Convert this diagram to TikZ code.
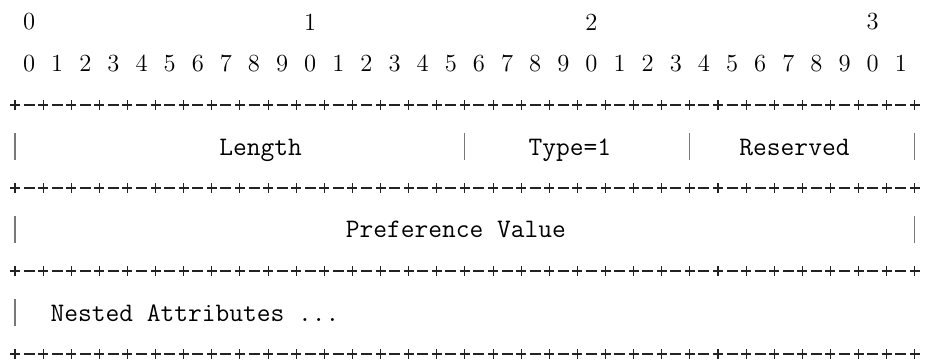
\documentclass[tikz,border=0pt]{standalone}
\usepackage{fontspec}
\usepackage{tikz}
\definecolor{grisBarre}{RGB}{120,120,120}
\definecolor{noirTrait}{RGB}{35,35,35}

\begin{document}
\begin{tikzpicture}[x=0.02cm, y=-0.02cm,
			digit/.style={inner sep=0pt, text=black, font=\fontsize{14}{16}\selectfont},
			field/.style={anchor=base west, inner sep=0pt, text=black, font=\ttfamily\fontsize{15.2}{18}\selectfont},
			bar/.style={draw=grisBarre, line width=0.6pt},
			rule/.style={draw=noirTrait, line width=0.6pt}
			]
			\useasboundingbox (0,0) rectangle (925,360);
			
			\foreach \d [count=\k from 0] in {0,1,2,3}
				\node[digit] (dec\k) at ({15+14.06*(1+20*\k)}, 22) {\d};
			\foreach \k in {0,...,31} {
				\pgfmathtruncatemacro\u{mod(\k,10)}
				\node[digit] (bit\k) at ({15+14.06*(2*\k+1)}, 63.5) {\u};
			}
			
			\foreach \r in {2,4,6,8} {
				\foreach \i in {0,2,...,64}
					\draw[rule] ({15+14.06*\i-5}, {22+41.5*\r}) -- ++(10,0)
						({15+14.06*\i}, {22+41.5*\r-5}) -- ++(0,10);
				\foreach \i in {1,3,...,63}
					\draw[rule] ({15+14.06*\i-5.5}, {22+41.5*\r}) -- ++(11,0);
			}
			
			\foreach \i in {0,32,48,64}
				\draw[bar] ({15+14.06*\i}, 133) -- ++(0,27);
			\foreach \i in {0,64}
				\draw[bar] ({15+14.06*\i}, 216) -- ++(0,27);
			\draw[bar] (15, 299) -- ++(0,27);
			
			\node[field] (len) at ({8+14.06*15}, 155) {Length};
			\node[field] (typ) at ({8+14.06*37}, 155) {Type=1};
			\node[field] (resv) at ({8+14.06*52}, 155) {Reserved};
			\node[field] (pref) at ({8+14.06*24}, 237) {Preference Value};
			\node[field] (nested) at ({8+14.06*3}, 321) {Nested Attributes ...};
		\end{tikzpicture}
\end{document}
